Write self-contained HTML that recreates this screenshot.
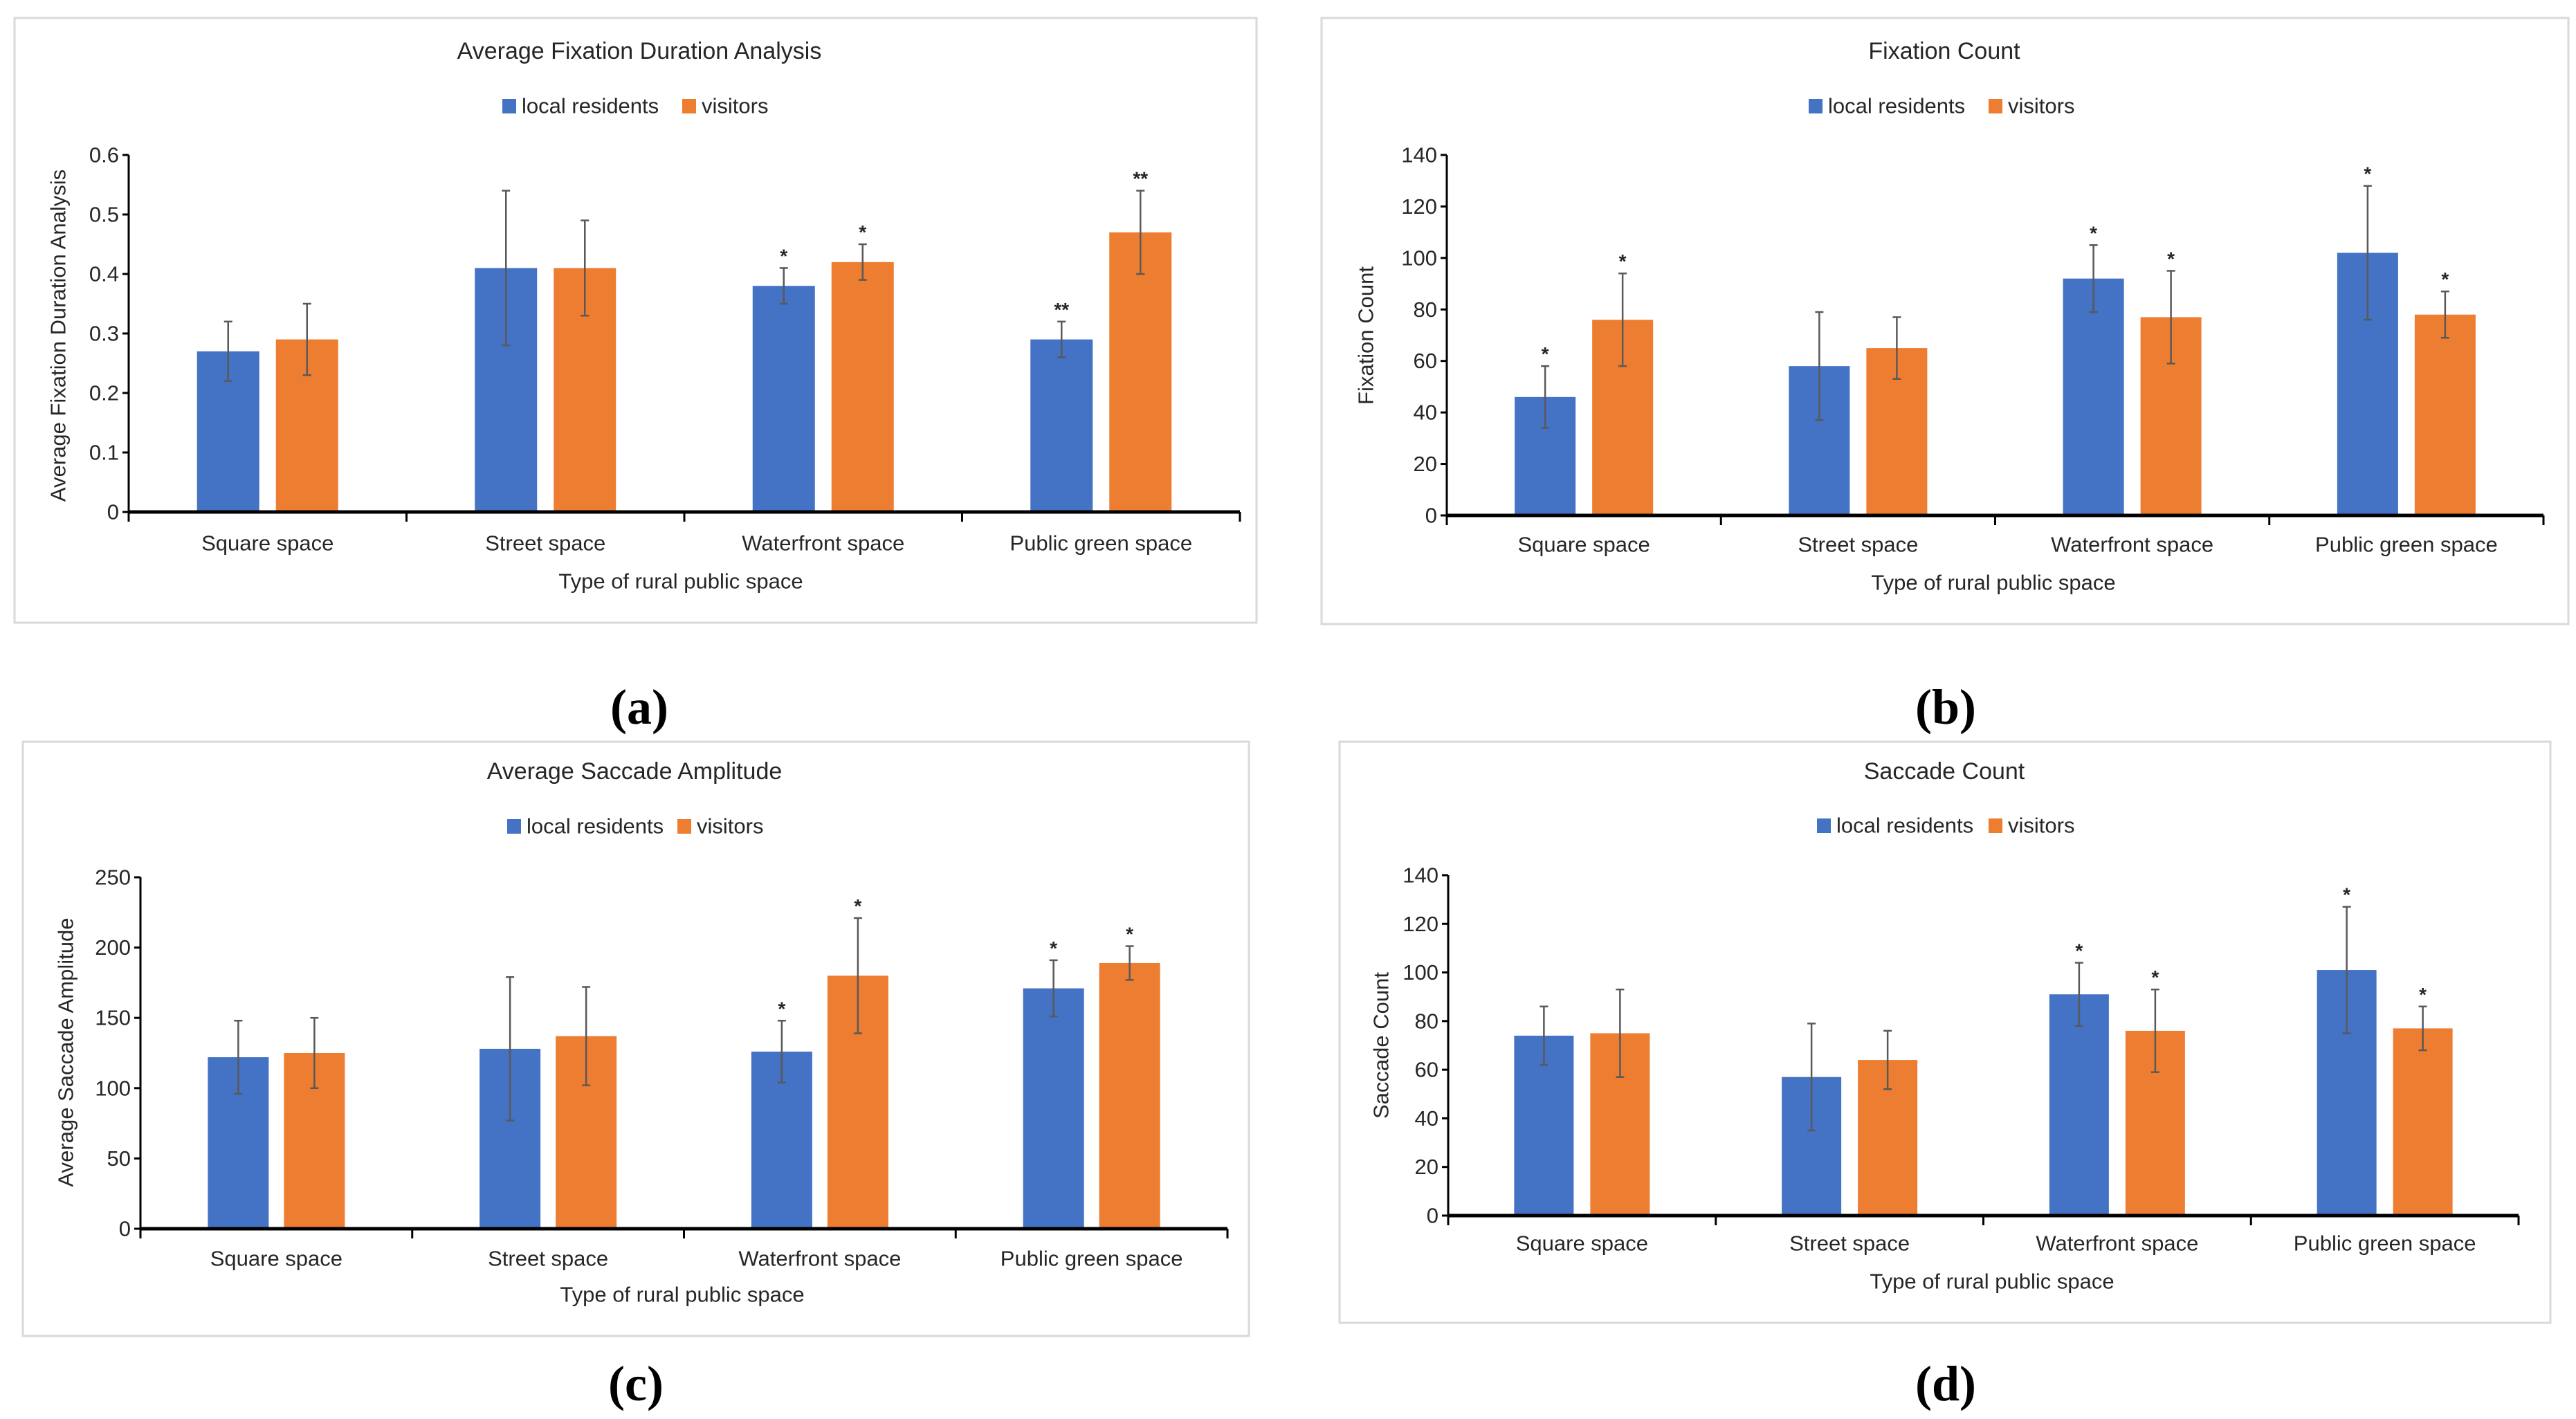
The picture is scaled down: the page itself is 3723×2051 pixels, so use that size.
<!DOCTYPE html>
<html><head><meta charset="utf-8"><style>
html,body{margin:0;padding:0;background:#fff;}
svg{display:block;}
text{font-family:"Liberation Sans",Arial,sans-serif;fill:#262626;}
.paren{font-family:"Liberation Serif",serif;font-weight:bold;fill:#000;}
</style></head><body>
<svg id="fig" width="3723" height="2051" viewBox="0 0 3723 2051" xmlns="http://www.w3.org/2000/svg"></svg>
<script>
// ---- data ----
const categories = ["Square space","Street space","Waterfront space","Public green space"];
const seriesNames = ["local residents","visitors"];
// (a) Average Fixation Duration
const aLocal = [0.27,0.41,0.38,0.29];
const aLocalErr = [0.05,0.13,0.03,0.03];
const aVisit = [0.29,0.41,0.42,0.47];
const aVisitErr = [0.06,0.08,0.03,0.07];
const aLocalSig = ["","","*","**"];
const aVisitSig = ["","","*","**"];
const aTicks = ["0","0.1","0.2","0.3","0.4","0.5","0.6"];
// (b) Fixation Count
const bLocal = [46,58,92,102];
const bLocalErr = [12,21,13,26];
const bVisit = [76,65,77,78];
const bVisitErr = [18,12,18,9];
const bLocalSig = ["*","","*","*"];
const bVisitSig = ["*","","*","*"];
const bTicks = ["0","20","40","60","80","100","120","140"];
// (c) Average Saccade Amplitude
const cLocal = [122,128,126,171];
const cLocalErr = [26,51,22,20];
const cVisit = [125,137,180,189];
const cVisitErr = [25,35,41,12];
const cLocalSig = ["","","*","*"];
const cVisitSig = ["","","*","*"];
const cTicks = ["0","50","100","150","200","250"];
// (d) Saccade Count
const dLocal = [74,57,91,101];
const dLocalErr = [12,22,13,26];
const dVisit = [75,64,76,77];
const dVisitErr = [18,12,17,9];
const dLocalSig = ["","","*","*"];
const dVisitSig = ["","","*","*"];
const dTicks = ["0","20","40","60","80","100","120","140"];

const NS="http://www.w3.org/2000/svg";
const svg=document.getElementById('fig');
function mk(tag,attrs,parent,txt){const e=document.createElementNS(NS,tag);for(const k in attrs)e.setAttribute(k,attrs[k]);if(txt!==undefined)e.textContent=txt;(parent||svg).appendChild(e);return e;}

function panel(id,L,title,ytitle,ticks,local,localErr,visit,visitErr,lSig,vSig,paren){
  const g=mk('g',{});
  
  
  const fr=mk('rect',{x:L.fx,y:L.fy,width:L.fw,height:L.fh,fill:'#fff',stroke:'#d9d9d9','stroke-width':3},g);
  
  
  const t=mk('text',{x:L.tx,y:L.ty,'font-size':34,'text-anchor':'middle','dominant-baseline':'central'},g,title);
  
  
  // legend
  const lg=mk('g',{},g);
  
  
  const cols=['#4472C4','#ED7D31'];
  [L.l1,L.l2].forEach((lx,i)=>{
    const e=mk('g',{},lg);
    
    
    mk('rect',{x:lx,y:L.ly-10,width:20,height:21,fill:cols[i]},e);
    mk('text',{x:lx+28,y:L.ly,'font-size':31,'dominant-baseline':'central'},e,seriesNames[i]);
  });
  const ymax=parseFloat(ticks[ticks.length-1]);
  const Y=v=>L.y0-(v/ymax)*(L.y0-L.yt);
  const n=categories.length, cw=(L.x1-L.x0)/n;
  const X=i=>L.x0+cw*(i+0.5);
  // y axis
  const ya=mk('g',{},g);
  
  
  mk('line',{x1:L.x0,y1:L.yt,x2:L.x0,y2:L.y0,stroke:'#000','stroke-width':3},ya);
  ticks.forEach(tk=>{
    const v=parseFloat(tk),y=Y(v);
    mk('line',{x1:L.x0-9,y1:y,x2:L.x0,y2:y,stroke:'#000','stroke-width':3},ya);
    const tl=mk('text',{x:L.x0-14,y:y,'font-size':31,'text-anchor':'end','dominant-baseline':'central'},ya,tk);
    
    
  });
  const yt=mk('text',{x:L.ytx,y:L.yty,'font-size':31,'text-anchor':'middle','dominant-baseline':'central',transform:`rotate(-90 ${L.ytx} ${L.yty})`},g,ytitle);
  
  
  // bars
  const series=[[local,localErr,lSig,-1],[visit,visitErr,vSig,1]];
  series.forEach((s,si)=>{
    s[0].forEach((v,i)=>{
      const cx=X(i)+s[3]*L.off;
      const b=mk('rect',{x:cx-L.bw/2,y:Y(v),width:L.bw,height:L.y0-Y(v),fill:cols[si]},g);
      
      
      const hi=Y(v+s[1][i]),lo=Y(v-s[1][i]);
      const eb=mk('g',{stroke:'#595959','stroke-width':2.5},g);
      
      
      mk('line',{x1:cx,y1:hi,x2:cx,y2:lo},eb);
      mk('line',{x1:cx-6,y1:hi,x2:cx+6,y2:hi},eb);
      mk('line',{x1:cx-6,y1:lo,x2:cx+6,y2:lo},eb);
      if(s[2][i]){
        const st=mk('text',{x:cx,y:hi-8,'font-size':28,'text-anchor':'middle','font-weight':'bold'},g,s[2][i]);
        
        
      }
    });
  });
  // x axis
  const xa=mk('g',{},g);
  
  
  mk('line',{x1:L.x0,y1:L.y0,x2:L.x1,y2:L.y0,stroke:'#000','stroke-width':5},xa);
  for(let i=0;i<=n;i++){const x=L.x0+cw*i;mk('line',{x1:x,y1:L.y0,x2:x,y2:L.y0+14,stroke:'#000','stroke-width':3},xa);}
  categories.forEach((c,i)=>{
    const cl=mk('text',{x:X(i),y:L.cy,'font-size':31,'text-anchor':'middle','dominant-baseline':'central'},xa,c);
    
    
  });
  const xt=mk('text',{x:L.xtx,y:L.xty,'font-size':31,'text-anchor':'middle','dominant-baseline':'central'},g,'Type of rural public space');
  
  
  const p=mk('text',{x:L.px,y:L.py,'font-size':72,'text-anchor':'middle','dominant-baseline':'central',class:'paren'},svg,paren);
  
  
}

panel('a',{fx:21,fy:26,fw:1795,fh:874,tx:924,ty:74,l1:726,l2:986,ly:153,x0:186,x1:1792,yt:224,y0:740,off:57,bw:90,cy:785,xtx:984,xty:840,ytx:84,yty:485,px:924,py:1022},
  'Average Fixation Duration Analysis','Average Fixation Duration Analysis',aTicks,aLocal,aLocalErr,aVisit,aVisitErr,aLocalSig,aVisitSig,'(a)');
panel('b',{fx:1910,fy:26,fw:1802,fh:876,tx:2810,ty:74,l1:2614,l2:2874,ly:153,x0:2091,x1:3676,yt:224,y0:745,off:56,bw:88,cy:787,xtx:2881,xty:842,ytx:1974,yty:485,px:2812,py:1022},
  'Fixation Count','Fixation Count',bTicks,bLocal,bLocalErr,bVisit,bVisitErr,bLocalSig,bVisitSig,'(b)');
panel('c',{fx:33,fy:1072,fw:1772,fh:859,tx:917,ty:1115,l1:733,l2:979,ly:1194,x0:203,x1:1774,yt:1268,y0:1776,off:55,bw:88,cy:1819,xtx:986,xty:1871,ytx:95,yty:1521,px:919,py:2000},
  'Average Saccade Amplitude','Average Saccade Amplitude',cTicks,cLocal,cLocalErr,cVisit,cVisitErr,cLocalSig,cVisitSig,'(c)');
panel('d',{fx:1936,fy:1072,fw:1750,fh:840,tx:2810,ty:1115,l1:2626,l2:2874,ly:1193,x0:2093,x1:3640,yt:1265,y0:1757,off:55,bw:86,cy:1797,xtx:2879,xty:1852,ytx:1996,yty:1511,px:2812,py:2000},
  'Saccade Count','Saccade Count',dTicks,dLocal,dLocalErr,dVisit,dVisitErr,dLocalSig,dVisitSig,'(d)');
</script>
</body></html>
